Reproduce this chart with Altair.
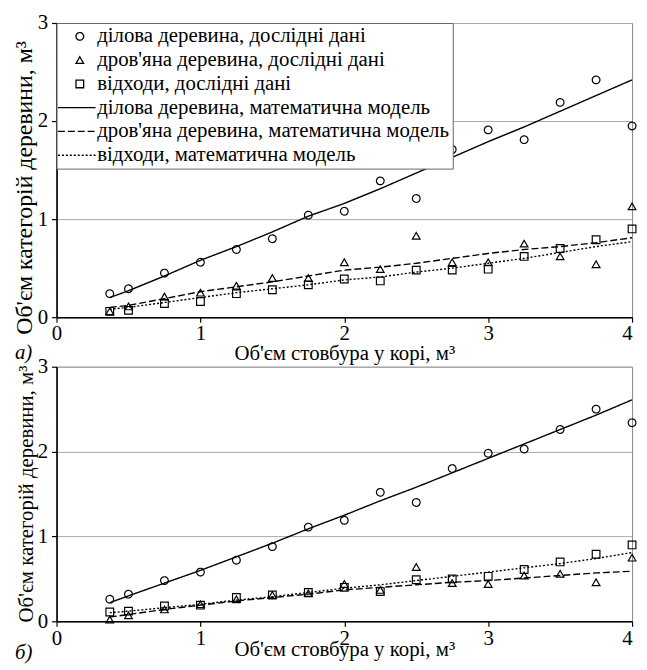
import altair as alt
import pandas as pd

x_vals = [0.37, 0.5, 0.75, 1.0, 1.25, 1.5, 1.75, 2.0, 2.25, 2.5, 2.75, 3.0, 3.25, 3.5, 3.75, 4.0]

series = [
    "ділова деревина, дослідні дані",
    "дров'яна деревина, дослідні дані",
    "відходи, дослідні дані",
    "ділова деревина, математична модель",
    "дров'яна деревина, математична модель",
    "відходи, математична модель",
]

# panel а)
a_dilova_obs = [0.24, 0.29, 0.45, 0.56, 0.69, 0.80, 1.04, 1.08, 1.39, 1.21, 1.71, 1.91, 1.81, 2.19, 2.42, 1.95]
a_drov_obs = [0.06, 0.11, 0.21, 0.25, 0.32, 0.40, 0.40, 0.56, 0.49, 0.83, 0.56, 0.56, 0.75, 0.62, 0.54, 1.13]
a_vidh_obs = [0.06, 0.07, 0.14, 0.16, 0.24, 0.28, 0.33, 0.39, 0.37, 0.48, 0.48, 0.49, 0.62, 0.70, 0.79, 0.90]
a_dilova_mod = [0.20, 0.27, 0.42, 0.58, 0.72, 0.87, 1.03, 1.16, 1.31, 1.47, 1.63, 1.79, 1.94, 2.10, 2.26, 2.42]
a_drov_mod = [0.10, 0.12, 0.19, 0.26, 0.31, 0.36, 0.42, 0.48, 0.51, 0.55, 0.60, 0.65, 0.69, 0.72, 0.76, 0.81]
a_vidh_mod = [0.08, 0.10, 0.15, 0.20, 0.25, 0.29, 0.33, 0.38, 0.41, 0.46, 0.50, 0.55, 0.60, 0.66, 0.72, 0.77]

# panel б)
b_dilova_obs = [0.26, 0.32, 0.48, 0.58, 0.72, 0.88, 1.11, 1.19, 1.52, 1.40, 1.80, 1.98, 2.03, 2.26, 2.50, 2.34]
b_drov_obs = [0.02, 0.07, 0.14, 0.20, 0.26, 0.31, 0.33, 0.44, 0.37, 0.64, 0.45, 0.44, 0.54, 0.56, 0.46, 0.75]
b_vidh_obs = [0.11, 0.12, 0.18, 0.19, 0.28, 0.31, 0.34, 0.40, 0.35, 0.49, 0.50, 0.53, 0.61, 0.70, 0.79, 0.90]
b_dilova_mod = [0.22, 0.30, 0.45, 0.60, 0.76, 0.92, 1.09, 1.25, 1.42, 1.58, 1.75, 1.92, 2.09, 2.26, 2.43, 2.61]
b_drov_mod = [0.05, 0.08, 0.14, 0.19, 0.24, 0.28, 0.32, 0.37, 0.40, 0.43, 0.46, 0.48, 0.51, 0.54, 0.57, 0.59]
b_vidh_mod = [0.10, 0.12, 0.16, 0.20, 0.25, 0.29, 0.34, 0.39, 0.43, 0.48, 0.53, 0.58, 0.63, 0.68, 0.74, 0.81]

x_ticks = [0, 1, 2, 3, 4]
y_ticks = [0, 1, 2, 3]
x_title = "Об'єм стовбура у корі, м³"
y_title = "Об'єм категорій деревини, м³"

FONT = "Liberation Serif"

# legend line symbols (custom paths in symbol units)
LINE_SYM = "M-5.7,0L4.1,0"


def long_df(lists):
    rows = []
    for name, vals in lists:
        for xv, yv in zip(x_vals, vals):
            rows.append({"x": xv, "y": yv, "series": name})
    return pd.DataFrame(rows)


shape_scale = alt.Scale(domain=series, range=["circle", "triangle-up", "square", LINE_SYM, LINE_SYM, LINE_SYM])
dash_scale = alt.Scale(domain=series, range=[[1, 0], [1, 0], [1, 0], [1, 0], [7, 3], [2, 2]])


def panel(obs, mod, height, show_legend, tag, x_title_pad, tag_dy, y_title_size, y_title_y):
    leg = alt.Legend(
        title=None, orient="top-left", offset=0, padding=3,
        fillColor="white", strokeColor="#666",
        labelFont=FONT, labelFontSize=21, labelLimit=0, labelColor="black",
        labelOffset=7, symbolOffset=10, symbolSize=60,
        rowPadding=2, symbolStrokeColor="black", symbolStrokeWidth=1.3,
        symbolFillColor="transparent",
    ) if show_legend else None
    xenc = alt.X("x:Q", scale=alt.Scale(domain=[0, 4], nice=False),
                 axis=alt.Axis(values=x_ticks, title=x_title, grid=False, format="d",
                               titlePadding=x_title_pad, labelPadding=1,
                               labelAlign={"condition": {"test": "datum.value == 4", "value": "right"},
                                           "value": "center"}))
    yenc = alt.Y("y:Q", scale=alt.Scale(domain=[0, 3], nice=False),
                 axis=alt.Axis(values=y_ticks, title=y_title, grid=True, format="d",
                               titleFontSize=y_title_size, titleY=y_title_y,
                               labelPadding=4, titlePadding=1))
    pts = alt.Chart(obs).mark_point(filled=False, color="black", strokeWidth=1.2, opacity=1, size=60).encode(
        x=xenc, y=yenc,
        shape=alt.Shape("series:N", scale=shape_scale, legend=leg),
        strokeDash=alt.StrokeDash("series:N", scale=dash_scale, legend=leg),
    )
    lns = alt.Chart(mod).mark_line(color="black", strokeWidth=1.4).encode(
        x=xenc, y=yenc,
        strokeDash=alt.StrokeDash("series:N", scale=dash_scale, legend=leg),
    )
    return alt.layer(lns, pts).properties(
        width=581, height=height,
        title=alt.TitleParams(tag, orient="bottom", anchor="start", frame="group", font=FONT, fontSize=21,
                              fontStyle="italic", fontWeight="normal", dx=-42, dy=tag_dy, offset=0,
                              color="black"),
    )


obs_a = long_df([(series[0], a_dilova_obs), (series[1], a_drov_obs), (series[2], a_vidh_obs)])
mod_a = long_df([(series[3], a_dilova_mod), (series[4], a_drov_mod), (series[5], a_vidh_mod)])
obs_b = long_df([(series[0], b_dilova_obs), (series[1], b_drov_obs), (series[2], b_vidh_obs)])
mod_b = long_df([(series[3], b_dilova_mod), (series[4], b_drov_mod), (series[5], b_vidh_mod)])

top = panel(obs_a, mod_a, 297, True, "а)", -1, -22, 24, 166)
bottom = panel(obs_b, mod_b, 257, False, "б)", -9, -18, 21, 128)

chart = alt.vconcat(top, bottom, spacing=-10).resolve_scale(
    shape="independent", strokeDash="independent"
).properties(padding={"left": 4, "top": 0, "right": 0, "bottom": 0}).configure_view(
    stroke="#888", strokeWidth=1
).configure_axis(
    domainColor="black", domainWidth=1.6, tickColor="black", tickSize=5, tickWidth=1.2,
    labelFont=FONT, labelFontSize=21, labelColor="black",
    titleFont=FONT, titleFontSize=21, titleFontWeight="normal", titleColor="black",
    gridColor="#aaa", gridWidth=1,
)

chart.save("out.html", embed_options={"renderer": "svg", "actions": False})
